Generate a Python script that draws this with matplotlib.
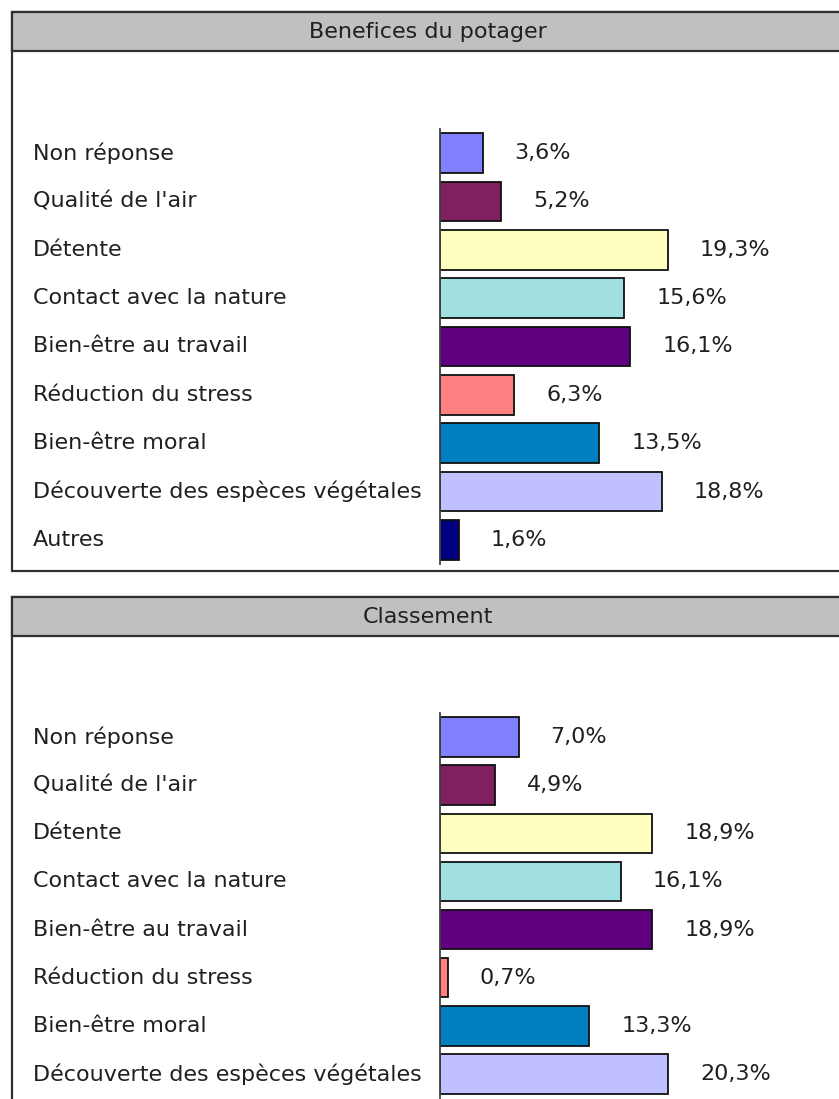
import matplotlib.pyplot as plt
from matplotlib.patches import Rectangle
from matplotlib.transforms import blended_transform_factory

# ---------- data ----------
categories = ["Non réponse", "Qualité de l'air", "Détente", "Contact avec la nature",
              "Bien-être au travail", "Réduction du stress", "Bien-être moral",
              "Découverte des espèces végétales", "Autres"]
benefices = [3.6, 5.2, 19.3, 15.6, 16.1, 6.3, 13.5, 18.8, 1.6]
# bottom panel is cut off after the 8th row
classement = [7.0, 4.9, 18.9, 16.1, 18.9, 0.7, 13.3, 20.3]
colors = ["#8080FF", "#802060", "#FFFFC0", "#A0E0E0", "#600080",
          "#FF8080", "#0080C0", "#C0C0FF", "#000080"]

W, H = 839, 1099
fig = plt.figure(figsize=(W / 100, H / 100), dpi=100)
plt.rcParams['font.family'] = ['DejaVu Sans']
TXT = "#202020"
FS = 16

# background layer in pixel coords
bg = fig.add_axes([0, 0, 1, 1])
bg.set_xlim(0, W)
bg.set_ylim(H, 0)
bg.axis('off')


def panel(top, bottom, title):
    bg.add_patch(Rectangle((12, top), 832, bottom - top, facecolor='white',
                           edgecolor='#303030', lw=1.6, zorder=1))
    bg.add_patch(Rectangle((12, top), 832, 39, facecolor='#C0C0C0',
                           edgecolor='#303030', lw=1.6, zorder=2))
    bg.text(428, top + 20, title, ha='center', va='center', fontsize=FS,
            color=TXT, zorder=3)


panel(12, 571, "Benefices du potager")
panel(597, 1130, "Classement")


def bars(values, first_y, pitch):
    n = len(values)
    top_px = first_y - pitch / 2
    h_px = pitch * n
    ax = fig.add_axes([440 / W, 1 - (top_px + h_px) / H, 300 / W, h_px / H])
    ax.patch.set_alpha(0)
    ax.barh(range(n), values, height=0.82, color=colors[:n],
            edgecolor='#101010', lw=1.3)
    ax.set_xlim(0, max(values) * 300 / 228)
    ax.set_ylim(n - 0.5, -0.5)
    for s in ['top', 'right', 'bottom']:
        ax.spines[s].set_visible(False)
    ax.spines['left'].set_color('#404040')
    ax.spines['left'].set_linewidth(1.3)
    ax.set_xticks([])
    ax.set_yticks([])
    tr = blended_transform_factory(fig.transFigure, ax.transData)
    for i, v in enumerate(values):
        ax.text(33 / W, i, categories[i], transform=tr, ha='left', va='center',
                fontsize=FS, color=TXT)
        ax.annotate(f"{v:.1f}%".replace('.', ','), xy=(v, i), xytext=(23, 0),
                    textcoords='offset points', ha='left', va='center',
                    fontsize=FS, color=TXT, annotation_clip=False)
    return ax


bars(benefices, 153, (540 - 153) / 8)
bars(classement, 737, (1074 - 737) / 7)

fig.savefig("out.png", dpi=100)
